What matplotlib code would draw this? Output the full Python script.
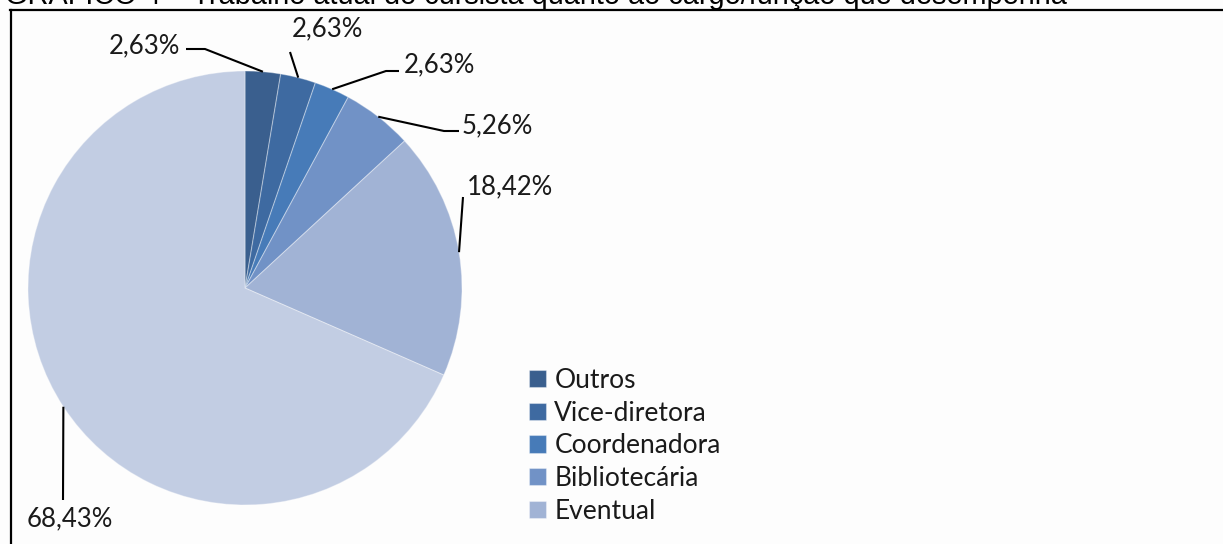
import matplotlib
matplotlib.use("Agg")
import matplotlib.pyplot as plt
from matplotlib.lines import Line2D
import numpy as np

# ---- data ----
categories = ["Outros", "Vice-diretora", "Coordenadora", "Bibliotecária", "Eventual", ""]
values = [2.63, 2.63, 2.63, 5.26, 18.42, 68.43]
labels = ["2,63%", "2,63%", "2,63%", "5,26%", "18,42%", "68,43%"]
colors = ["#3A5F8E", "#3E6AA1", "#477BB8", "#7192C6", "#A1B3D5", "#C2CDE3"]
title = "GRÁFICO 4 – Trabalho atual do cursista quanto ao cargo/função que desempenha"

W, H = 1223, 544
fig = plt.figure(figsize=(W / 100, H / 100), dpi=100)
fig.patch.set_facecolor("#FDFDFD")
ax = fig.add_axes([0, 0, 1, 1])

def py(y):  # pixel-from-top to data y
    return H - y

cx, cy, R = 245, py(288), 217
wedges, _ = ax.pie(values, colors=colors, startangle=90, counterclock=False,
                   center=(cx, cy), radius=R, frame=True,
                   wedgeprops=dict(linewidth=0.8, edgecolor=(1, 1, 1, 0.35)))
ax.set_xlim(0, W)
ax.set_ylim(0, H)
ax.set_aspect("equal")
ax.set_axis_off()

# anchors at the middle of each wedge arc
frac = np.array(values) / sum(values)
mids = 90 - 360 * (np.cumsum(frac) - frac / 2)
anchors = [(cx + R * np.cos(np.radians(a)), cy + R * np.sin(np.radians(a))) for a in mids]

# leader-line layout (pixel coords from top) : elbow points then label
layout = [
    dict(path=[(186, 49), (205, 49)], text=(144, 46)),
    dict(path=[(290, 52)], text=(327, 29)),
    dict(path=[(399, 71), (386, 71)], text=(439, 65)),
    dict(path=[(459, 131), (444, 131)], text=(497, 126)),
    dict(path=[(463, 197)], text=(510, 187)),
    dict(path=[(63, 500)], text=(70, 519)),
]
lfont = dict(family=["Lato", "DejaVu Sans"], size=18.5, color="#1a1a1a")
for lab, anc, lay in zip(labels, anchors, layout):
    pts = [(x, py(y)) for x, y in lay["path"]] + [anc]
    xs, ys = zip(*pts)
    ax.add_line(Line2D(xs, ys, color="black", lw=1.5, solid_capstyle="butt"))
    tx, ty = lay["text"]
    ax.text(tx, py(ty), lab, ha="center", va="center", **lfont)

# legend (first five categories)
leg = ax.legend(wedges[:5], categories[:5], loc="upper left",
                bbox_to_anchor=(529 / W, 1 - 368 / H), bbox_transform=fig.transFigure,
                frameon=False, handlelength=0.64, handleheight=0.64,
                handletextpad=0.32, labelspacing=0.29, borderpad=0, borderaxespad=0,
                prop=dict(family=["Lato", "DejaVu Sans"], size=19))
for t in leg.get_texts():
    t.set_color("#1a1a1a")

# frame lines of the figure box
ax.add_line(Line2D([10.5, 10.5], [0, py(10)], color="black", lw=1.6))
ax.add_line(Line2D([10, W], [py(10), py(10)], color="black", lw=1.6))

# cropped title at the very top
tt = fig.text(5 / W, 1 - 4 / H, title, ha="left", va="baseline",
              family="Liberation Sans", fontsize=18, color="black")
fig.canvas.draw()
w = tt.get_window_extent(fig.canvas.get_renderer()).width
tt.set_fontsize(18 * 1063 / w)

fig.savefig("out.png", dpi=100, facecolor=fig.get_facecolor())
